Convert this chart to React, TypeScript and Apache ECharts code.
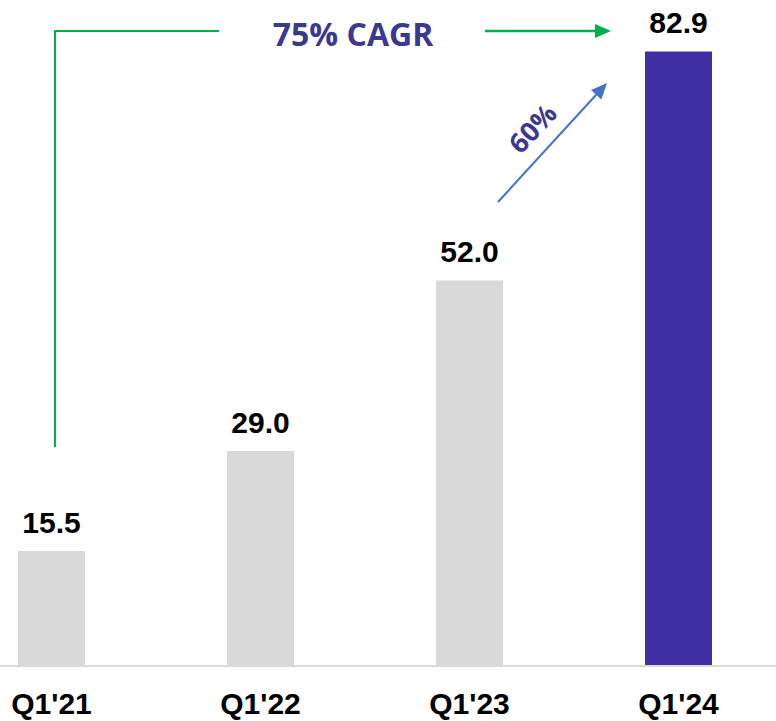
import React, { useEffect, useRef } from "react";
import * as echarts from "echarts";

const categories = ["Q1'21", "Q1'22", "Q1'23", "Q1'24"];
const values = [15.5, 29.0, 52.0, 82.9];
const barColors = ["#D9D9D9", "#D9D9D9", "#D9D9D9", "#402EA3"];
const cagrText = "75% CAGR";
const yoyText = "60%";

export default function App() {
  const ref = useRef<HTMLDivElement>(null);
  useEffect(() => {
    if (!ref.current) return;
    const chart = echarts.init(ref.current, null, { renderer: "svg" });
    const green = "#00B050";
    const blue = "#4472C4";
    const textColor = "#3B3890";
    // blue arrow geometry
    const sx = 498, sy = 202, tx = 607, ty = 83;
    const len = Math.hypot(tx - sx, ty - sy);
    const ux = (tx - sx) / len, uy = (ty - sy) / len;
    const hl = 16, hw = 7;
    const bx = tx - hl * ux, by = ty - hl * uy;
    const px = -uy, py = ux;
    chart.setOption({
      animation: false,
      grid: { left: 51.5, right: 97.5, top: 36, bottom: 55, containLabel: false },
      xAxis: {
        type: "category",
        data: categories,
        boundaryGap: false,
        axisTick: { show: false },
        axisLine: { show: false },
        axisLabel: {
          margin: 22,
          fontFamily: "Liberation Sans, Arial, sans-serif",
          fontWeight: "bold",
          fontSize: 30,
          color: "#000",
        },
      },
      yAxis: {
        type: "value",
        min: 0,
        max: 85,
        show: false,
        splitLine: { show: false },
      },
      series: [
        {
          type: "bar",
          barWidth: 67,
          data: values.map((v, i) => ({ value: v, itemStyle: { color: barColors[i] } })),
          label: {
            show: true,
            position: "top",
            distance: 14,
            formatter: (p: any) => Number(p.value).toFixed(1),
            fontFamily: "Liberation Sans, Arial, sans-serif",
            fontWeight: "bold",
            fontSize: 30,
            color: "#000",
          },
        },
      ],
      graphic: [
        {
          type: "line",
          z: 10,
          shape: { x1: 0, y1: 666, x2: 776, y2: 666 },
          style: { stroke: "#D9D9D9", lineWidth: 2 },
        },
        {
          type: "polyline",
          shape: { points: [[55, 447], [55, 31], [219, 31]] },
          style: { stroke: green, lineWidth: 2, fill: null },
        },
        {
          type: "line",
          shape: { x1: 485, y1: 31, x2: 597, y2: 31 },
          style: { stroke: green, lineWidth: 2.5 },
        },
        {
          type: "polygon",
          shape: { points: [[595, 24], [611, 31], [595, 38]] },
          style: { fill: green },
        },
        {
          type: "text",
          x: 353,
          y: 33,
          style: {
            text: cagrText,
            fontFamily: "Open Sans, sans-serif",
            fontWeight: "bold",
            fontSize: 32,
            fill: textColor,
            align: "center",
            verticalAlign: "middle",
          },
        },
        {
          type: "line",
          shape: { x1: sx, y1: sy, x2: bx, y2: by },
          style: { stroke: blue, lineWidth: 2 },
        },
        {
          type: "polygon",
          shape: {
            points: [
              [tx, ty],
              [bx + hw * px, by + hw * py],
              [bx - hw * px, by - hw * py],
            ],
          },
          style: { fill: blue },
        },
        {
          type: "text",
          x: 532,
          y: 128,
          rotation: 0.82,
          style: {
            text: yoyText,
            fontFamily: "Open Sans, sans-serif",
            fontWeight: "bold",
            fontSize: 27,
            fill: textColor,
            align: "center",
            verticalAlign: "middle",
          },
        },
      ],
    });
    return () => chart.dispose();
  }, []);
  return (
    <div
      ref={ref}
      style={{ position: "fixed", left: 0, top: 0, width: 776, height: 721, background: "#fff" }}
    />
  );
}
